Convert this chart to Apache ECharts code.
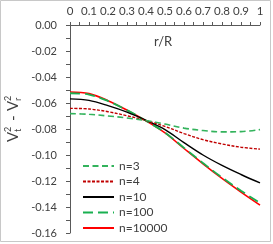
<!DOCTYPE html>
<html><head><meta charset="utf-8">
<script src="https://cdn.jsdelivr.net/npm/echarts@6/dist/echarts.min.js"></script>
<style>html,body{margin:0;padding:0;background:#fff}#c{width:273px;height:244px}</style>
</head><body><div id="c"></div>
<script>
const xValues = [0, 0.1, 0.2, 0.3, 0.4, 0.5, 0.6, 0.7, 0.8, 0.9, 1.0];
const xTickLabels = ['0','0.1','0.2','0.3','0.4','0.5','0.6','0.7','0.8','0.9','1'];
const yTickLabels = ['0.00','-0.02','-0.04','-0.06','-0.08','-0.10','-0.12','-0.14','-0.16'];
const seriesNames = ['n=3','n=4','n=10','n=100','n=10000'];
const n3     = [-0.0682,-0.0687,-0.0700,-0.0715,-0.0735,-0.0762,-0.0793,-0.0812,-0.0822,-0.0820,-0.0805];
const n4     = [-0.0641,-0.0646,-0.0667,-0.0698,-0.0735,-0.0780,-0.0835,-0.0882,-0.0915,-0.0940,-0.0955];
const n10    = [-0.0568,-0.0580,-0.0620,-0.0670,-0.0733,-0.0805,-0.0905,-0.1000,-0.1080,-0.1150,-0.1215];
const n100   = [-0.0525,-0.0535,-0.0585,-0.0655,-0.0737,-0.0828,-0.0945,-0.1062,-0.1173,-0.1275,-0.1368];
const n10000 = [-0.0515,-0.0528,-0.0582,-0.0655,-0.0737,-0.0830,-0.0950,-0.1068,-0.1180,-0.1285,-0.1385];

const pair = arr => xValues.map((x,i)=>[x,arr[i]]);
const styles = [
  {color:'#33b35c', type:[6,3.5], width:1.6},
  {color:'#c00000', type:[3,1.5], width:1.4},
  {color:'#000000', type:'solid', width:1.4},
  {color:'#19b050', type:[10,5], width:1.8},
  {color:'#ff0000', type:'solid', width:1.6}
];
const datas = [n3,n4,n10,n100,n10000];
const chart = echarts.init(document.getElementById('c'), null, {renderer:'canvas'});
const txt = '#404040';
const font = 'Lato';
chart.setOption({
  animation:false,
  backgroundColor:'#fff',
  grid:{left:70, top:25, right:13, bottom:11, containLabel:false},
  xAxis:{type:'value', position:'top', min:0, max:1, interval:0.1,
    axisLine:{onZero:false, lineStyle:{color:'#595959', width:1}},
    axisTick:{show:true, inside:false, length:3, lineStyle:{color:'#595959'}},
    minorTick:{show:true, splitNumber:2, length:3, lineStyle:{color:'#595959'}},
    splitLine:{show:false},
    axisLabel:{margin:8, color:txt, fontFamily:font, fontSize:11.5,
      formatter:(v)=>xTickLabels[Math.round(v*10)]}
  },
  yAxis:{type:'value', min:-0.16, max:0, interval:0.02,
    axisLine:{show:true, onZero:false, lineStyle:{color:'#595959', width:1}},
    axisTick:{show:true, inside:false, length:4, lineStyle:{color:'#595959'}},
    minorTick:{show:true, splitNumber:2, length:4, lineStyle:{color:'#595959'}},
    splitLine:{show:false},
    axisLabel:{margin:13, color:txt, fontFamily:font, fontSize:11,
      formatter:(v)=>yTickLabels[Math.round(-v/0.02)]}
  },
  legend:{orient:'vertical', left:82, top:160, height:120, padding:0, itemWidth:31, itemHeight:10, itemGap:3.5,
    itemStyle:{opacity:0},
    textStyle:{color:txt, fontFamily:font, fontSize:12, padding:[0,0,0,0]},
    data:seriesNames},
  series: seriesNames.map((nm,i)=>({
    name:nm, type:'line', data:pair(datas[i]), smooth:0.35, symbol:'none',
    lineStyle:styles[i], itemStyle:{color:styles[i].color}, z:10-i
  })),
  graphic:[
    {type:'rect', shape:{x:0.5,y:0.5,width:270,height:241}, style:{fill:'none', stroke:'#c8c8c8', lineWidth:1}, silent:true},
    {type:'text', left:154, top:35, style:{text:'r/R', fill:txt, font:'13px Lato'}},
    {type:'group', x:13, y:115, rotation:Math.PI/2, children:[
      {type:'text', x:-27, y:0, style:{text:'V', font:'15px Lato', fill:txt, verticalAlign:'middle', align:'left'}},
      {type:'text', x:-17, y:-5, style:{text:'2', font:'9px Lato', fill:txt, verticalAlign:'middle', align:'left'}},
      {type:'text', x:-17, y:5, style:{text:'t', font:'9px Lato', fill:txt, verticalAlign:'middle', align:'left'}},
      {type:'text', x:-6, y:0, style:{text:'-', font:'15px Lato', fill:txt, verticalAlign:'middle', align:'left'}},
      {type:'text', x:4, y:0, style:{text:'V', font:'15px Lato', fill:txt, verticalAlign:'middle', align:'left'}},
      {type:'text', x:14, y:-5, style:{text:'2', font:'9px Lato', fill:txt, verticalAlign:'middle', align:'left'}},
      {type:'text', x:14, y:5, style:{text:'r', font:'9px Lato', fill:txt, verticalAlign:'middle', align:'left'}}
    ]}
  ]
});
</script></body></html>
